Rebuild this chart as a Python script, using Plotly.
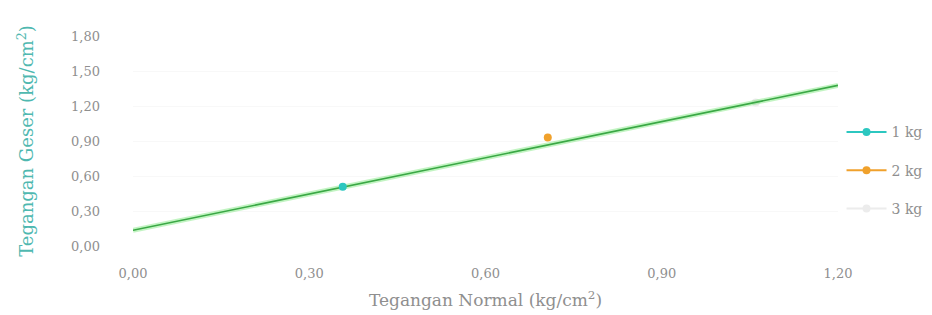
import plotly.graph_objects as go

# Data
series_names = ["1 kg", "2 kg", "3 kg"]
normal_stress = [0.357, 0.706, 1.06]
shear_stress = [0.507, 0.93, 1.23]
series_colors = ["#2cc7c0", "#f0a12c", "#ececec"]

trend_x = [0.0, 1.2]
trend_y = [0.135, 1.377]

x_ticks = [0.0, 0.3, 0.6, 0.9, 1.2]
y_ticks = [0.0, 0.3, 0.6, 0.9, 1.2, 1.5, 1.8]

FONT = "DejaVu Serif"
GRAY = "#8f8f8f"

fig = go.Figure()

# faint 3 kg point sits beneath the trendline
fig.add_trace(go.Scatter(x=[normal_stress[2]], y=[shear_stress[2]], mode="lines+markers",
                         name=series_names[2], legendgroup="g3", legendrank=3,
                         line=dict(color=series_colors[2], width=2),
                         marker=dict(color=series_colors[2], size=8)))

# trendline halo + line
fig.add_trace(go.Scatter(x=trend_x, y=trend_y, mode="lines",
                         line=dict(color="rgba(120,230,120,0.45)", width=5),
                         showlegend=False, hoverinfo="skip"))
fig.add_trace(go.Scatter(x=trend_x, y=trend_y, mode="lines",
                         line=dict(color="#3aa845", width=1.6),
                         showlegend=False, hoverinfo="skip"))

for i in range(2):
    fig.add_trace(go.Scatter(x=[normal_stress[i]], y=[shear_stress[i]], mode="lines+markers",
                             name=series_names[i], legendgroup="g%d" % (i + 1),
                             legendrank=i + 1,
                             line=dict(color=series_colors[i], width=2),
                             marker=dict(color=series_colors[i], size=8)))

fig.update_layout(
    width=932, height=315,
    margin=dict(l=125, r=102, t=28, b=77),
    paper_bgcolor="white", plot_bgcolor="white",
    separators=",.",
    font=dict(family=FONT, size=13, color=GRAY),
    legend=dict(x=1.005, y=0.36, yanchor="middle", xanchor="left",
                font=dict(family=FONT, size=14, color=GRAY),
                traceorder="grouped", tracegroupgap=17,
                itemwidth=40, bgcolor="rgba(0,0,0,0)"),
    xaxis=dict(range=[0, 1.2], tickvals=x_ticks, tickformat=".2f",
               showgrid=False, zeroline=False, showline=False,
               ticks="", ticklabelstandoff=18,
               title=dict(text="Tegangan Normal (kg/cm<sup>2</sup>)",
                          font=dict(family=FONT, size=17, color=GRAY), standoff=14)),
    yaxis=dict(range=[0, 1.8], tickvals=y_ticks, tickformat=".2f",
               showgrid=True, gridcolor="#f8f8f8", zeroline=False, showline=False,
               ticks="", ticklabelstandoff=32,
               title=dict(text="Tegangan Geser (kg/cm<sup>2</sup>)",
                          font=dict(family=FONT, size=18, color="#4fb8b0"), standoff=32)),
)

fig.write_html("out.html")
